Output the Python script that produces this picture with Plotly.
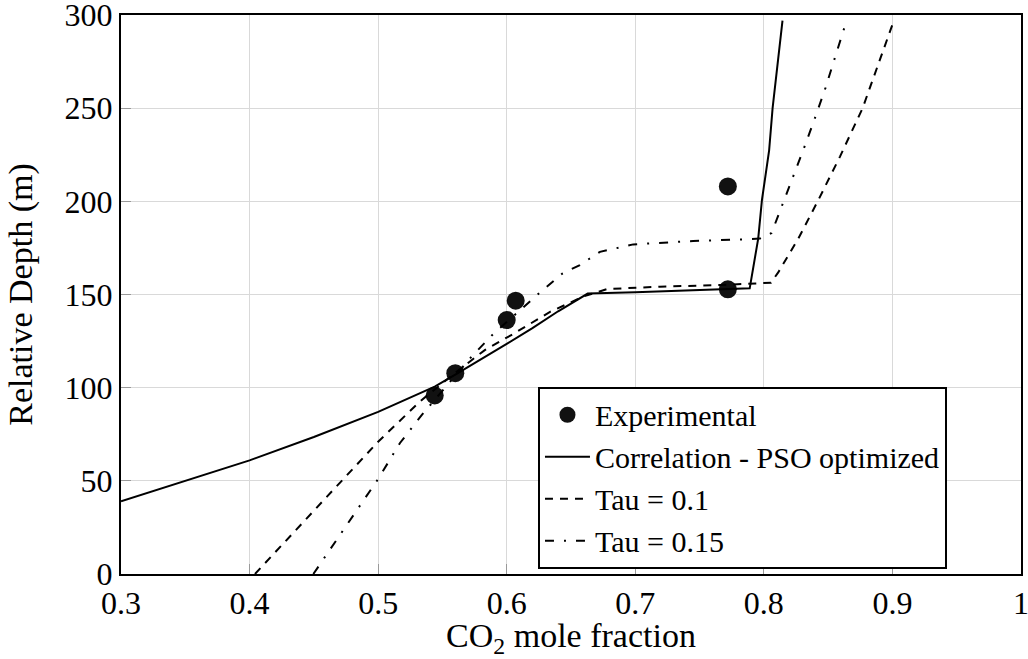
import plotly.graph_objects as go

# Experimental data
exp_x = [0.544, 0.560, 0.600, 0.607, 0.772, 0.772]
exp_y = [95.8, 107.8, 136.3, 146.7, 152.8, 208.0]

# Correlation - PSO optimized
corr_x = [0.30, 0.35, 0.40, 0.45, 0.50, 0.544, 0.56, 0.60, 0.62, 0.64, 0.663,
          0.70, 0.74, 0.766, 0.789, 0.7956, 0.7985, 0.8041, 0.8068, 0.8145]
corr_y = [39.0, 50.0, 61.0, 73.5, 87.0, 100.6, 107.0, 123.5, 132.0, 141.0, 150.5,
          151.2, 152.0, 152.8, 153.3, 180.0, 200.6, 227.4, 250.0, 297.0]

# Tau = 0.1
tau1_x = [0.4042, 0.45, 0.50, 0.5325, 0.56, 0.5832, 0.605, 0.634, 0.66, 0.678,
          0.719, 0.766, 0.8055, 0.8113, 0.8268, 0.8423, 0.8592, 0.8768, 0.9006]
tau1_y = [0.0, 34.0, 71.0, 92.6, 108.0, 120.3, 128.8, 140.8, 149.0, 152.9,
          154.2, 155.1, 156.3, 162.0, 180.0, 200.6, 224.0, 250.0, 296.0]

# Tau = 0.15
tau2_x = [0.4496, 0.50, 0.517, 0.534, 0.5727, 0.5895, 0.6258, 0.6432, 0.6569, 0.6725,
          0.6984, 0.745, 0.784, 0.797, 0.806, 0.8145, 0.8236, 0.832, 0.8404, 0.848,
          0.8552, 0.863]
tau2_y = [0.0, 51.0, 70.3, 85.4, 116.7, 128.8, 151.0, 161.2, 165.8, 172.9,
          176.9, 178.7, 179.6, 180.0, 183.0, 198.5, 214.0, 230.0, 246.0, 261.0,
          277.0, 294.0]

x_ticks = [0.3, 0.4, 0.5, 0.6, 0.7, 0.8, 0.9, 1.0]
x_ticktext = ["0.3", "0.4", "0.5", "0.6", "0.7", "0.8", "0.9", "1"]
y_ticks = [0, 50, 100, 150, 200, 250, 300]

FONT = "Liberation Serif, Times New Roman, DejaVu Serif, serif"

fig = go.Figure()
fig.add_trace(go.Scatter(x=exp_x, y=exp_y, mode="markers", name="Experimental",
                         marker=dict(size=18, color="#111111", symbol="circle")))
fig.add_trace(go.Scatter(x=corr_x, y=corr_y, mode="lines", name="Correlation - PSO optimized",
                         line=dict(color="black", width=2, dash="solid")))
fig.add_trace(go.Scatter(x=tau1_x, y=tau1_y, mode="lines", name="Tau = 0.1",
                         line=dict(color="black", width=2, dash="8px,7px")))
fig.add_trace(go.Scatter(x=tau2_x, y=tau2_y, mode="lines", name="Tau = 0.15",
                         line=dict(color="black", width=2, dash="9px,10px,2px,10px")))

axis_common = dict(showgrid=True, gridcolor="#d9d9d9", gridwidth=1,
                   showline=True, linecolor="black", linewidth=2, mirror=True,
                   ticks="inside", ticklen=10, tickcolor="#999999", tickwidth=1,
                   zeroline=False, automargin=False, ticklabeloverflow="allow",
                   tickfont=dict(family=FONT, size=32, color="black"))

fig.update_layout(
    width=1028, height=659,
    margin=dict(l=121, r=7, t=15, b=84.5),
    paper_bgcolor="white", plot_bgcolor="white",
    font=dict(family=FONT, size=32, color="black"),
    xaxis=dict(range=[0.3, 1.0], tickvals=x_ticks, ticktext=x_ticktext,
               title=dict(text="CO<sub>2</sub> mole fraction", standoff=10,
                          font=dict(family=FONT, size=34)),
               **axis_common),
    yaxis=dict(range=[0, 300], tickvals=y_ticks,
               title=dict(text="Relative Depth (m)", standoff=22,
                          font=dict(family=FONT, size=34)),
               **axis_common),
    legend=dict(x=0.4633, y=0.335, xanchor="left", yanchor="top",
                bgcolor="white", bordercolor="black", borderwidth=2,
                font=dict(family=FONT, size=30, color="black"),
                tracegroupgap=0, itemwidth=45),
    showlegend=True,
)

fig.write_html("out.html", config={"displayModeBar": False},
               post_script="document.body.style.margin='0';document.body.style.overflow='hidden';")
